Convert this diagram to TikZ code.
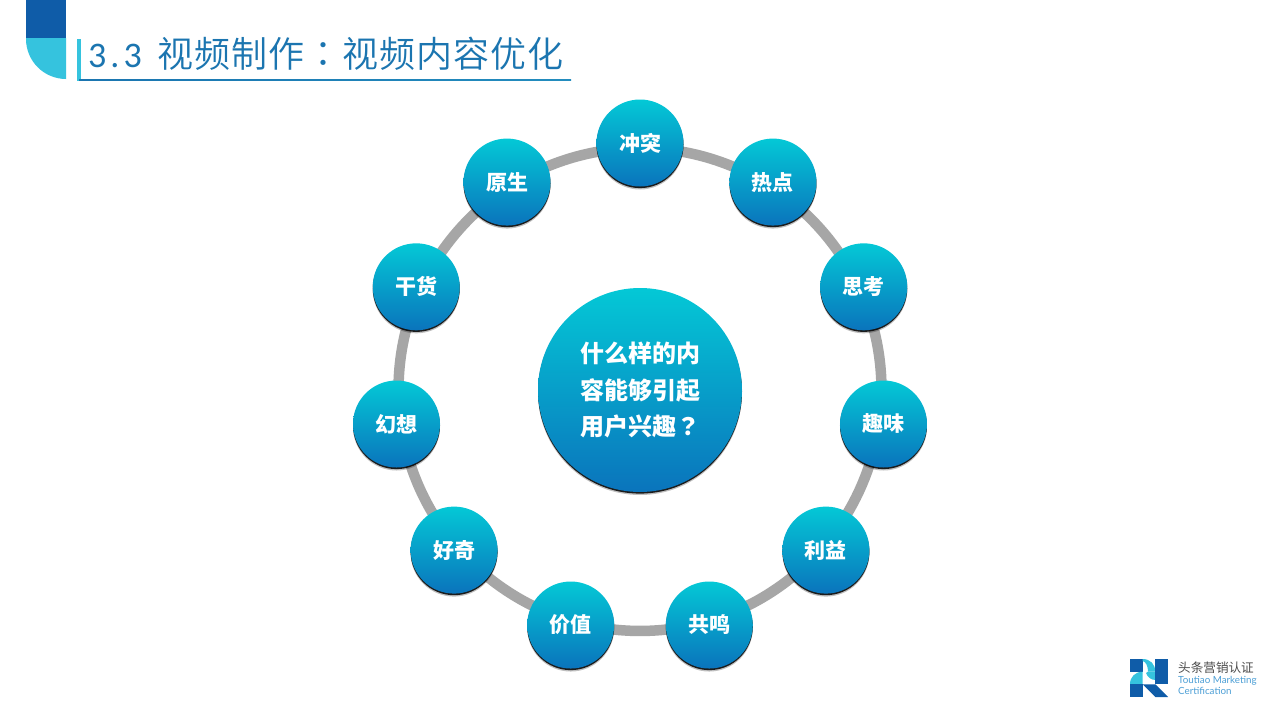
\documentclass[tikz,border=0pt]{standalone}
\usepackage{fontspec}
\setmainfont{Noto Sans CJK SC}
\newfontfamily\tcfont{Noto Sans CJK TC}
\newfontfamily\titlecjk{Noto Sans CJK SC DemiLight}
\newfontfamily\titletc{Noto Sans CJK TC DemiLight}
\newfontfamily\latinfont{Carlito}
\newfontfamily\logolatin{Lato}
\usetikzlibrary{backgrounds,calc}
\definecolor{titleblue}{HTML}{1B75B0}
\definecolor{darkblue}{HTML}{0F5CA8}
\definecolor{lightblue}{HTML}{35C3DE}
\definecolor{ringgray}{HTML}{A6A6A6}
\definecolor{balltop}{HTML}{04C8D6}
\definecolor{ballbot}{HTML}{0A74BC}
\definecolor{logotext}{HTML}{4C9FD6}
\newcommand{\tch}[1]{\makebox[37pt]{#1}}
\tikzset{
  ballbase/.style={circle,inner sep=0pt,text=white,align=center,
    top color=balltop,bottom color=ballbot,middle color=balltop!50!ballbot,
    preaction={fill=black,fill opacity=.25,transform canvas={yshift=-3pt}},
    preaction={fill=black,fill opacity=.85,transform canvas={yshift=-1.6pt}}},
  smallball/.style={ballbase,minimum size=87pt,font=\fontsize{21}{21}\selectfont\bfseries},
  bigball/.style={ballbase,minimum size=204pt,font=\fontsize{24}{36.5}\selectfont\bfseries},
  ringlink/.style={draw=ringgray,line width=10.5pt,bend left=16.36,looseness=.87},
}
\begin{document}
\begin{tikzpicture}[x=1pt,y=-1pt]
\useasboundingbox (0,0) rectangle (1280,720);
% corner badge
\fill[darkblue] (26,0) rectangle (66,38);
\fill[lightblue] (26,38) -- (66,38) -- (66,79) .. controls (44,79) and (26,61) .. (26,39) -- cycle;
% title
\fill[lightblue] (77,39) rectangle (81,81);
\shade[left color=titleblue,right color=titleblue!70!lightblue] (79,79.3) rectangle (571,80.6);
\node[anchor=base west,inner sep=0pt,text=titleblue,font=\fontsize{36}{36}\selectfont] (title) at (88,67)
  {{\latinfont 3\hspace{4pt}.\hspace{4pt}3}\hspace{15pt}\titlecjk\tch{视}\tch{频}\tch{制}\tch{作}\tch{\titletc ：}\tch{视}\tch{频}\tch{内}\tch{容}\tch{优}\tch{化}};
% balls and the ring's way points under them
\foreach \i/\t in {0/冲突,1/热点,2/思考,3/趣味,4/利益,5/共鸣,6/价值,7/好奇,8/幻想,9/干货,10/原生}{
  \pgfmathsetmacro\ang{90-\i*360/11}
  \path (640,389) ++(\ang:246 and -246) node[smallball] (n\i) {\t};
  \path (640,389.5) ++(\ang:241.5 and -241.5) coordinate (r\i);
}
\node[bigball] (hub) at (640,390) {什么样的内\\容能够引起\\用户兴趣{\tcfont ？}};
\begin{pgfonlayer}{background}
\fill[white] (0,0) rectangle (1280,720);
\foreach \a/\b in {0/1,1/2,2/3,3/4,4/5,5/6,6/7,7/8,8/9,9/10,10/0}{
  \path[ringlink] (r\a) to (r\b);
}
\end{pgfonlayer}
% logo
\fill[darkblue] (1130,659) rectangle (1142.7,671.7);
\fill[lightblue] (1142.7,659) .. controls (1150,659) and (1155.3,664) .. (1155.3,671.7) -- (1148,671.7) .. controls (1148,666) and (1146,662) .. (1142.7,661) -- cycle;
\fill[lightblue] (1130,684.3) .. controls (1130,677) and (1135,671.7) .. (1142.7,671.7) -- (1142.7,684.3) -- cycle;
\fill[lightblue] (1148,671.7) -- (1155.3,671.7) -- (1155.3,680) .. controls (1151,680) and (1147.5,677) .. (1146,673) -- cycle;
\fill[darkblue] (1155.3,659) rectangle (1168,684.3);
\fill[darkblue] (1130,684.3) rectangle (1142.7,697);
\fill[darkblue] (1142.7,684.3) -- (1155.3,684.3) -- (1168,697) -- (1155.3,697) -- cycle;
\node[anchor=west,inner sep=0pt,text=black!70,font=\fontsize{12.6}{12.6}\selectfont] (logoa) at (1178,667.5) {头条营销认证};
\node[anchor=west,inner sep=0pt,text=logotext,font=\logolatin\fontsize{9.8}{9.8}\selectfont] (logob) at (1178,681) {Toutiao Marketing};
\node[anchor=west,inner sep=0pt,text=logotext,font=\logolatin\fontsize{9.8}{9.8}\selectfont] (logoc) at (1178,691) {Certification};
\end{tikzpicture}
\end{document}
